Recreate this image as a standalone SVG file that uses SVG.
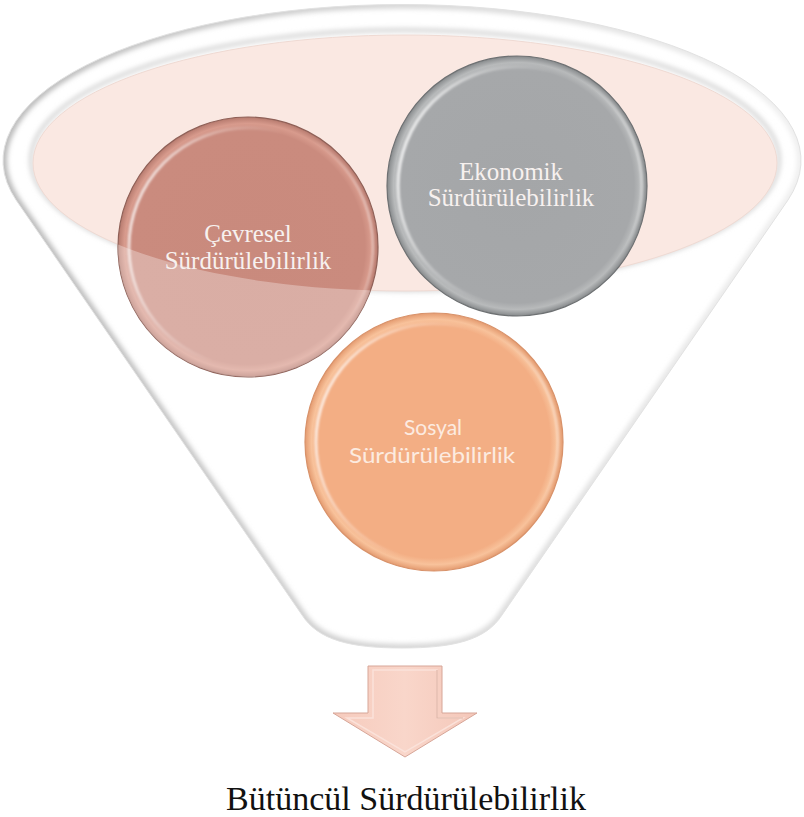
<svg xmlns="http://www.w3.org/2000/svg" width="804" height="817" viewBox="0 0 804 817">
<style>
.serif{font-family:"Liberation Serif","Times New Roman",serif;text-anchor:middle}
.sans{font-family:Lato,"Open Sans","Liberation Sans",sans-serif;text-anchor:middle}
.ct{font-size:25px;fill:#f7f1ef}
.cs{font-size:21px;fill:#fcebe0}
</style>
<defs>
<path id="funnelPath" d="M16,200 L302,615 C318,640 350,648 402,648 C454,648 486,640 502,615 L788,200 A399 156 0 1 0 16 200 Z"/>
<clipPath id="funnelClip"><use href="#funnelPath"/></clipPath>
<clipPath id="cevClip"><circle cx="248" cy="247" r="130"/></clipPath>
<filter id="blur2" x="-10%" y="-10%" width="120%" height="120%"><feGaussianBlur stdDeviation="2.5"/></filter>
<filter id="blur1" x="-10%" y="-10%" width="120%" height="120%"><feGaussianBlur stdDeviation="1.2"/></filter>
<linearGradient id="edgeGrad" x1="0" y1="0" x2="1" y2="0">
<stop offset="0" stop-color="#b9b9b9"/><stop offset="0.5" stop-color="#d6d6d6"/><stop offset="1" stop-color="#efefef"/>
</linearGradient>
<linearGradient id="hl" x1="0" y1="0" x2="1" y2="0.3">
<stop offset="0" stop-color="#fff" stop-opacity="0.95"/><stop offset="0.35" stop-color="#fff" stop-opacity="0.25"/><stop offset="0.6" stop-color="#fff" stop-opacity="0"/>
</linearGradient>
<linearGradient id="hlR" x1="1" y1="0" x2="0" y2="0.2">
<stop offset="0" stop-color="#fff" stop-opacity="0.7"/><stop offset="0.25" stop-color="#fff" stop-opacity="0"/>
</linearGradient>
<radialGradient id="gCev" cx="0.5" cy="0.5" r="0.5">
<stop offset="0" stop-color="#c98a7d"/><stop offset="0.9" stop-color="#ca8b7e"/><stop offset="0.95" stop-color="#d89b8d"/><stop offset="1" stop-color="#b67a6e"/>
</radialGradient>
<radialGradient id="gEko" cx="0.5" cy="0.5" r="0.5">
<stop offset="0" stop-color="#a4a6a8"/><stop offset="0.9" stop-color="#a6a8aa"/><stop offset="0.95" stop-color="#b8babb"/><stop offset="1" stop-color="#86898b"/>
</radialGradient>
<radialGradient id="gSos" cx="0.5" cy="0.5" r="0.5">
<stop offset="0" stop-color="#f3ae84"/><stop offset="0.9" stop-color="#f3ae84"/><stop offset="0.95" stop-color="#f8c29b"/><stop offset="1" stop-color="#e49b70"/>
</radialGradient>
<linearGradient id="arrowG" x1="0" y1="0" x2="1" y2="0">
<stop offset="0" stop-color="#f6cbbd"/><stop offset="0.5" stop-color="#f9d6ca"/><stop offset="1" stop-color="#f4c7b9"/>
</linearGradient>
</defs>

<rect width="804" height="817" fill="#ffffff"/>

<g id="funnel">
<use href="#funnelPath" fill="#ffffff"/>
<g clip-path="url(#funnelClip)">
<use href="#funnelPath" fill="none" stroke="url(#edgeGrad)" stroke-width="8" filter="url(#blur2)"/>
<ellipse cx="405" cy="160" rx="374" ry="130" fill="none" stroke="#d4d4d4" stroke-width="4" filter="url(#blur2)"/>
</g>
<use href="#funnelPath" fill="none" stroke="#e2e2e2" stroke-width="1"/>
<ellipse cx="405" cy="163" rx="372" ry="128" fill="#fae8e2" stroke="#efdad3" stroke-width="1"/>
</g>

<g id="node-cevresel">
<circle cx="248" cy="247" r="130" fill="url(#gCev)" stroke="#8f6057" stroke-width="1.2"/>
<circle cx="248" cy="247" r="119" fill="none" stroke="url(#hl)" stroke-width="3" filter="url(#blur1)"/>
<circle cx="248" cy="247" r="125" fill="none" stroke="url(#hlR)" stroke-width="2" filter="url(#blur1)"/>
</g>

<g id="node-ekonomik">
<circle cx="517" cy="186" r="130" fill="url(#gEko)" stroke="#6e7173" stroke-width="1.2"/>
<circle cx="517" cy="186" r="119" fill="none" stroke="url(#hl)" stroke-width="3.5" filter="url(#blur1)"/>
<circle cx="517" cy="186" r="125" fill="none" stroke="url(#hlR)" stroke-width="2.5" filter="url(#blur1)"/>
<text class="serif ct" x="511" y="180">Ekonomik</text>
<text class="serif ct" x="511" y="206">Sürdürülebilirlik</text>
</g>

<g id="front-wall" clip-path="url(#cevClip)">
<path d="M33,163 A372 128 0 0 0 777 163 L804,163 L804,817 L0,817 L0,163 Z" fill="#ffffff" fill-opacity="0.3"/>
</g>
<g id="cevresel-label">
<text class="serif ct" x="248" y="242">Çevresel</text>
<text class="serif ct" x="248" y="269">Sürdürülebilirlik</text>
</g>

<g id="node-sosyal">
<circle cx="434" cy="442" r="129" fill="url(#gSos)" stroke="#d8926a" stroke-width="1.2"/>
<circle cx="434" cy="442" r="118" fill="none" stroke="url(#hl)" stroke-width="3" filter="url(#blur1)"/>
<circle cx="434" cy="442" r="124" fill="none" stroke="url(#hlR)" stroke-width="2" filter="url(#blur1)"/>
<text class="sans cs" x="433" y="435">Sosyal</text>
<text class="sans cs" x="432" y="463" textLength="166" lengthAdjust="spacingAndGlyphs">Sürdürülebilirlik</text>
</g>

<g id="connectors">
<path d="M368,666 L442,666 L442,713 L477,713 L405,757 L333,713 L368,713 Z" fill="url(#arrowG)" stroke="#d7a698" stroke-width="1"/>
<path d="M373,670 L437,670 L437,718 L463,718 L405,752 L347,718 L373,718 Z" fill="none" stroke="#fbe3db" stroke-width="1.5" opacity="0.9"/>
<path d="M437,670 L437,718 L463,718" fill="none" stroke="#d9a999" stroke-width="1.2" opacity="0.8"/>
</g>

<g id="result">
<text class="serif" x="406" y="810" font-size="34" fill="#111111">Bütüncül Sürdürülebilirlik</text>
</g>
</svg>
